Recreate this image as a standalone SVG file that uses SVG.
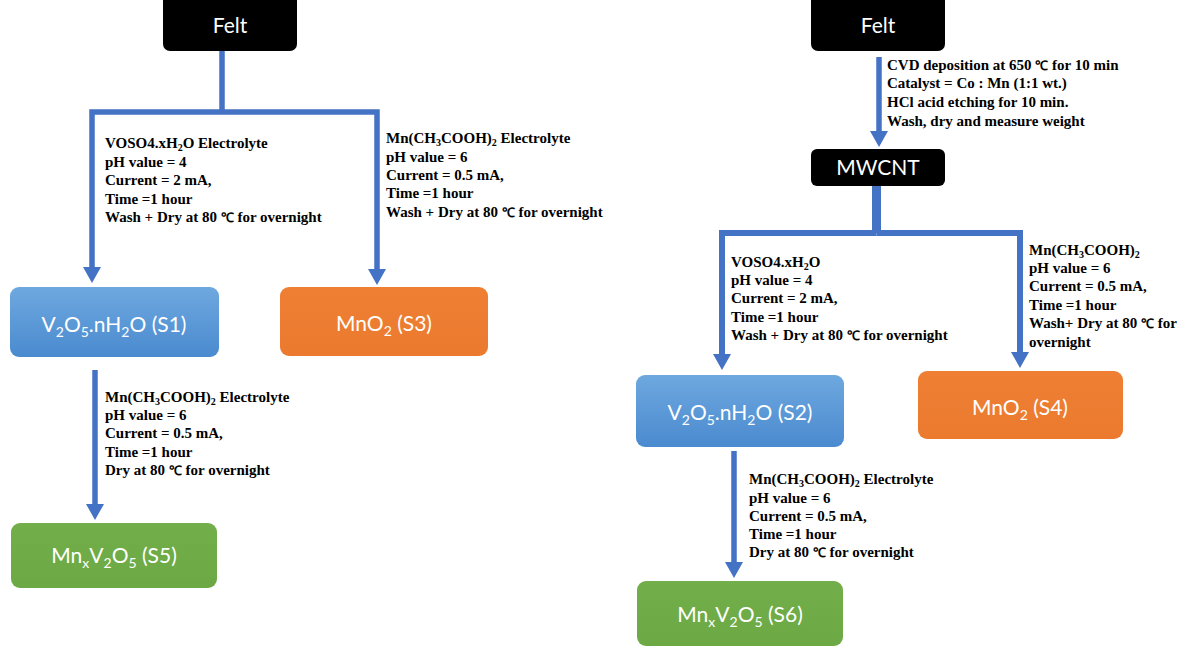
<svg xmlns="http://www.w3.org/2000/svg" width="1194" height="653" viewBox="0 0 1194 653">
<defs>
<style>
.dark{fill:#000}
.blue{fill:url(#gBlue)}
.orange{fill:url(#gOrange)}
.green{fill:url(#gGreen)}
.nt{font-family:Lato,"Open Sans","Liberation Sans",sans-serif;font-size:21px;fill:#fff;text-anchor:middle}
.nt .sb{font-size:14px}
.ln{fill:none;stroke:#4472C4;stroke-width:5.5;stroke-linejoin:miter}
.lb{font-family:"Liberation Serif","Times New Roman",serif;font-weight:bold;font-size:15px;fill:#000}
.lb .sb{font-size:10px}
.lb .dg{font-size:13px}
</style>
<linearGradient id="gBlue" x1="0" y1="0" x2="0" y2="1"><stop offset="0" stop-color="#6EA8DF"/><stop offset="1" stop-color="#4A8ACF"/></linearGradient>
<linearGradient id="gOrange" x1="0" y1="0" x2="0" y2="1"><stop offset="0" stop-color="#EE7F33"/><stop offset="1" stop-color="#EB7A2F"/></linearGradient>
<linearGradient id="gGreen" x1="0" y1="0" x2="0" y2="1"><stop offset="0" stop-color="#72AE49"/><stop offset="1" stop-color="#6CA944"/></linearGradient>
<marker id="ah" markerUnits="userSpaceOnUse" markerWidth="18" markerHeight="18" refX="2" refY="9" orient="auto">
<path d="M0,0 L16,9 L0,18 z" fill="#4472C4"/>
</marker>
</defs>

<g id="connectors">
<path class="ln" d="M222,51 V112"/>
<path class="ln" d="M222,112 H92 V269" marker-end="url(#ah)"/>
<path class="ln" d="M222,112 H377 V271" marker-end="url(#ah)"/>
<path class="ln" d="M95,370 V506" marker-end="url(#ah)"/>
<path class="ln" d="M879,57 V133" marker-end="url(#ah)"/>
<path class="ln" style="stroke-width:9" d="M876.5,186 V233"/>
<path class="ln" style="stroke-width:6" d="M876.5,233 H722 V356" marker-end="url(#ah)"/>
<path class="ln" style="stroke-width:6" d="M876.5,233 H1020 V354" marker-end="url(#ah)"/>
<path class="ln" d="M734,451 V564" marker-end="url(#ah)"/>
</g>

<g id="labels">
<text class="lb" x="105" y="148">VOSO4.xH<tspan class="sb" dy="3">2</tspan><tspan dy="-3">O Electrolyte</tspan></text>
<text class="lb" x="105" y="167">pH value = 4</text>
<text class="lb" x="105" y="185">Current = 2 mA,</text>
<text class="lb" x="105" y="204">Time =1 hour</text>
<text class="lb" x="105" y="222">Wash + Dry at 80 <tspan class="dg">℃</tspan> for overnight</text>

<text class="lb" x="386" y="143">Mn(CH<tspan class="sb" dy="3">3</tspan><tspan dy="-3">COOH)</tspan><tspan class="sb" dy="3">2</tspan><tspan dy="-3"> Electrolyte</tspan></text>
<text class="lb" x="386" y="162">pH value = 6</text>
<text class="lb" x="386" y="180">Current = 0.5 mA,</text>
<text class="lb" x="386" y="198">Time =1 hour</text>
<text class="lb" x="386" y="217">Wash + Dry at 80 <tspan class="dg">℃</tspan> for overnight</text>

<text class="lb" x="105" y="402">Mn(CH<tspan class="sb" dy="3">3</tspan><tspan dy="-3">COOH)</tspan><tspan class="sb" dy="3">2</tspan><tspan dy="-3"> Electrolyte</tspan></text>
<text class="lb" x="105" y="420">pH value = 6</text>
<text class="lb" x="105" y="438">Current = 0.5 mA,</text>
<text class="lb" x="105" y="457">Time =1 hour</text>
<text class="lb" x="105" y="475">Dry at 80 <tspan class="dg">℃</tspan> for overnight</text>

<text class="lb" x="887" y="70">CVD deposition at 650 <tspan class="dg">℃</tspan> for 10 min</text>
<text class="lb" x="887" y="88">Catalyst = Co : Mn (1:1 wt.)</text>
<text class="lb" x="887" y="107">HCl acid etching for 10 min.</text>
<text class="lb" x="887" y="126">Wash, dry and measure weight</text>

<text class="lb" x="731" y="267">VOSO4.xH<tspan class="sb" dy="3">2</tspan><tspan dy="-3">O</tspan></text>
<text class="lb" x="731" y="285">pH value = 4</text>
<text class="lb" x="731" y="303">Current = 2 mA,</text>
<text class="lb" x="731" y="322">Time =1 hour</text>
<text class="lb" x="731" y="340">Wash + Dry at 80 <tspan class="dg">℃</tspan> for overnight</text>

<text class="lb" x="1029" y="255">Mn(CH<tspan class="sb" dy="3">3</tspan><tspan dy="-3">COOH)</tspan><tspan class="sb" dy="3">2</tspan></text>
<text class="lb" x="1029" y="273">pH value = 6</text>
<text class="lb" x="1029" y="291">Current = 0.5 mA,</text>
<text class="lb" x="1029" y="310">Time =1 hour</text>
<text class="lb" x="1029" y="328">Wash+ Dry at 80 <tspan class="dg">℃</tspan> for</text>
<text class="lb" x="1029" y="347">overnight</text>

<text class="lb" x="749" y="484">Mn(CH<tspan class="sb" dy="3">3</tspan><tspan dy="-3">COOH)</tspan><tspan class="sb" dy="3">2</tspan><tspan dy="-3"> Electrolyte</tspan></text>
<text class="lb" x="749" y="503">pH value = 6</text>
<text class="lb" x="749" y="521">Current = 0.5 mA,</text>
<text class="lb" x="749" y="539">Time =1 hour</text>
<text class="lb" x="749" y="557">Dry at 80 <tspan class="dg">℃</tspan> for overnight</text>
</g>

<g id="felt-left">
<rect class="dark" x="163" y="-6" width="134" height="57" rx="7"/>
<text class="nt" x="230" y="33">Felt</text>
</g>
<g id="s1">
<rect class="blue" x="10" y="287" width="209" height="70" rx="9"/>
<text class="nt" x="114" y="332">V<tspan class="sb" dy="5">2</tspan><tspan dy="-5">O</tspan><tspan class="sb" dy="5">5</tspan><tspan dy="-5">.nH</tspan><tspan class="sb" dy="5">2</tspan><tspan dy="-5">O (S1)</tspan></text>
</g>
<g id="s3">
<rect class="orange" x="280" y="287" width="208" height="69" rx="9"/>
<text class="nt" x="384" y="331">MnO<tspan class="sb" dy="5">2</tspan><tspan dy="-5"> (S3)</tspan></text>
</g>
<g id="s5">
<rect class="green" x="11" y="523" width="206" height="65" rx="9"/>
<text class="nt" x="114" y="563">Mn<tspan class="sb" dy="5">x</tspan><tspan dy="-5">V</tspan><tspan class="sb" dy="5">2</tspan><tspan dy="-5">O</tspan><tspan class="sb" dy="5">5</tspan><tspan dy="-5"> (S5)</tspan></text>
</g>

<g id="felt-right">
<rect class="dark" x="811" y="-6" width="134" height="57" rx="7"/>
<text class="nt" x="878" y="33">Felt</text>
</g>
<g id="mwcnt">
<rect class="dark" x="811" y="149" width="134" height="37" rx="6"/>
<text class="nt" x="878" y="175">MWCNT</text>
</g>
<g id="s2">
<rect class="blue" x="636" y="375" width="208" height="72" rx="9"/>
<text class="nt" x="740" y="420">V<tspan class="sb" dy="5">2</tspan><tspan dy="-5">O</tspan><tspan class="sb" dy="5">5</tspan><tspan dy="-5">.nH</tspan><tspan class="sb" dy="5">2</tspan><tspan dy="-5">O (S2)</tspan></text>
</g>
<g id="s4">
<rect class="orange" x="918" y="371" width="205" height="68" rx="9"/>
<text class="nt" x="1020" y="415">MnO<tspan class="sb" dy="5">2</tspan><tspan dy="-5"> (S4)</tspan></text>
</g>
<g id="s6">
<rect class="green" x="637" y="581" width="206" height="65" rx="9"/>
<text class="nt" x="740" y="622">Mn<tspan class="sb" dy="5">x</tspan><tspan dy="-5">V</tspan><tspan class="sb" dy="5">2</tspan><tspan dy="-5">O</tspan><tspan class="sb" dy="5">5</tspan><tspan dy="-5"> (S6)</tspan></text>
</g>
</svg>
